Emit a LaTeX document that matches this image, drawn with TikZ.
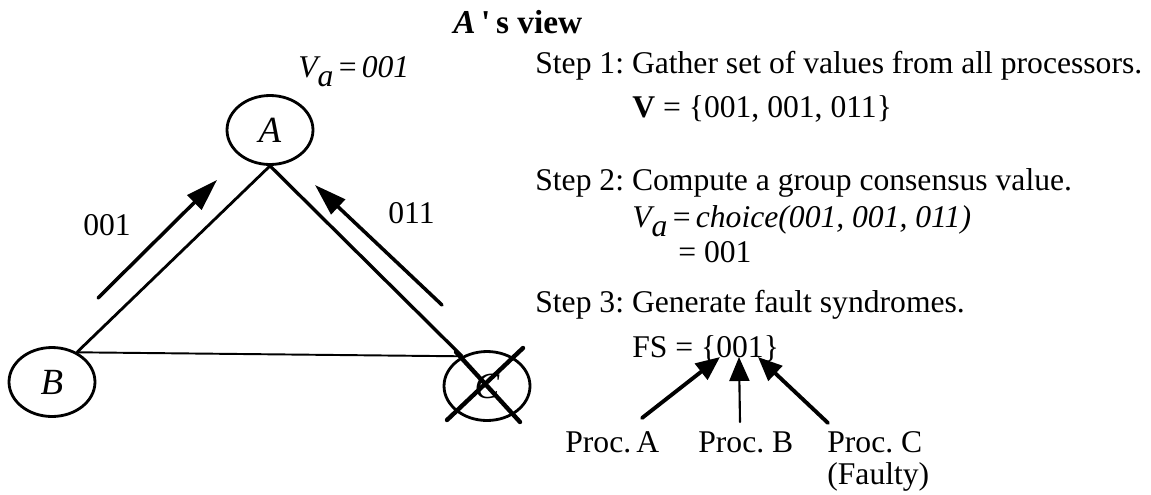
\documentclass[tikz,border=0pt]{standalone}
\usepackage{fontspec}
\setmainfont{Liberation Serif}
\usetikzlibrary{arrows.meta, shapes.geometric}
\frenchspacing

\begin{document}
\begin{tikzpicture}[x=0.02cm, y=-0.02cm,
  proc/.style={draw, ellipse, line width=1.6pt, minimum width=1.72cm,
    minimum height=1.38cm, inner sep=0pt, font=\fontsize{21}{24}\selectfont\itshape},
  txt/.style={anchor=base west, inner sep=0pt, font=\fontsize{18}{22}\selectfont},
  msg/.style={-{Triangle[length=0.64cm, width=0.4cm]}, line width=2pt, line cap=round},
  vote/.style={-{Triangle[length=0.48cm, width=0.4cm]}, line width=2.2pt, line cap=round}]
  \useasboundingbox (0,0) rectangle (1151,494);
  % the three processors
  \node[proc] (A) at (270,130) {A};
  \node[proc] (B) at (52,382) {B};
  \node[proc] (C) at (487,386) {C};
  \draw[line width=1.6pt] (A.south) -- (B.50);
  \draw[line width=1.9pt] (A.south) -- (C.130);
  \draw[line width=1.1pt] (B.50) -- (C.130);
  % C is faulty
  \draw[line width=2.5pt, line cap=round] (447,420) -- (523,348);
  \draw[line width=2.5pt, line cap=round] (456,352) -- (520,422);
  % messages sent to A
  \coordinate (m1) at (98,298);
  \coordinate (m2) at (217,180);
  \coordinate (m3) at (442,305);
  \coordinate (m4) at (315,185);
  \draw[msg] (m1) -- (m2);
  \draw[msg] (m3) -- (m4);
  \node[txt] (lab1) at (83,235) {001};
  \node[txt] (lab2) at (388,223) {011};
  \node[txt] (va) at (298,77) {\itshape V\raisebox{-0.3em}{a}\,{\upshape =}\,001};
  % A's steps
  \node[txt, font=\fontsize{19}{22}\selectfont\bfseries] (title) at (453,33)
    {\textit{A}\,\textquotesingle\,s view};
  \node[txt] (step1) at (535,73) {Step 1: Gather set of values from all processors.};
  \node[txt] (setv) at (632,117) {\textbf{V} = \{001, 001, 011\}};
  \node[txt] (step2) at (535,190) {Step 2: Compute a group consensus value.};
  \node[txt] (choice) at (632,227)
    {\itshape V\raisebox{-0.3em}{a}\,{\upshape =}\,choice(001, 001, 011)};
  \node[txt] (res) at (678,262) {= 001};
  \node[txt] (step3) at (535,312) {Step 3: Generate fault syndromes.};
  \node[txt] (fs) at (632,357) {FS = \{001\}};
  \node[txt] (pa) at (565,452) {Proc.\,A};
  \node[txt] (pb) at (698,452) {Proc. B};
  \node[txt] (pc) at (827,452) {Proc. C};
  \node[txt] (faulty) at (827,484) {(Faulty)};
  % syndrome bits
  \coordinate (ta) at (642,418);
  \coordinate (tb) at (740,422);
  \coordinate (tc) at (828,423);
  \coordinate (ha) at (720,357);
  \coordinate (hb) at (739,357);
  \coordinate (hc) at (758,357);
  \draw[vote] (ta) -- (ha);
  \draw[vote, line width=1.2pt] (tb) -- (hb);
  \draw[vote] (tc) -- (hc);
\end{tikzpicture}
\end{document}
